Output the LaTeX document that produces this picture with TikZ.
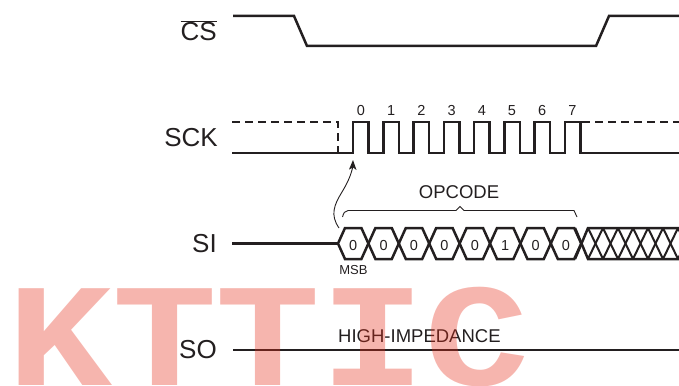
\documentclass[tikz,border=0pt]{standalone}
\usepackage{fontspec}
\setmainfont{Liberation Sans}
\newfontfamily\markfont{Liberation Mono}
\definecolor{inkdark}{HTML}{231F20}
\definecolor{markred}{RGB}{229,44,24}
\tikzset{
	wave/.style={inkdark, line width=2.5pt, line join=miter},
	thinwave/.style={inkdark, line width=0.9pt},
	sigtext/.style={inkdark, font=\fontsize{26}{26}\selectfont, anchor=base east, inner sep=0pt},
	bittext/.style={inkdark, font=\fontsize{14.5}{14.5}\selectfont, anchor=base, inner sep=0pt},
	smalltext/.style={inkdark, font=\fontsize{18.5}{18.5}\selectfont, anchor=base, inner sep=0pt},
	marktext/.style={text=markred, text opacity=0.35, font=\fontsize{175}{175}\markfont\bfseries, anchor=base, inner sep=0pt, yscale=0.84},
}
\begin{document}
\begin{tikzpicture}[x=1pt, y=-1pt]
		\useasboundingbox (0,0) rectangle (679,385);
		
		% signal names
		\node[sigtext] (csname) at (217,41) {$\overline{\mbox{CS}}$};
		\node[sigtext] (sckname) at (218,146) {SCK};
		\node[sigtext] (siname) at (217,252) {SI};
		\node[sigtext] (soname) at (217,358) {SO};
		
		% chip select
		\draw[wave] (233,16) -- (294,16) -- (307,46) -- (596,46) -- (609,16) -- (679,16);
		
		% clock
		\draw[wave, dashed, dash pattern=on 8pt off 5pt] (232,122) -- (338,122) -- (338,153);
		\draw[wave, dashed, dash pattern=on 8pt off 5pt] (582,122) -- (679,122);
		\draw[wave] (232,153) -- (353,153)
			\foreach \k in {0,...,7} {
				-- ({353+30.25*\k},122) -- ({368.5+30.25*\k},122) -- ({368.5+30.25*\k},153) -- ({383.25+30.25*\k},153)
			};
		\draw[wave] (580,122) -- (580,153) -- (679,153);
		\foreach \k in {0,...,7} {
			\node[bittext] (clk\k) at ({361+30.2*\k},115) {\k};
		}
		
		% data in
		\draw[wave] (232,243.5) -- (338,243.5);
		\foreach \k/\bit in {0/0,1/0,2/0,3/0,4/0,5/1,6/0,7/0} {
			\draw[wave] ({338+30.4*\k},243.5) -- ({345+30.4*\k},228) -- ({361.4+30.4*\k},228) -- ({368.4+30.4*\k},243.5)
				-- ({361.4+30.4*\k},259) -- ({345+30.4*\k},259) -- cycle;
			\node[bittext] (bit\k) at ({353.2+30.4*\k},250) {\bit};
		}
		
		% don't care part
		\draw[wave] (575,228) -- (588,259) -- (679,259);
		\draw[wave] (575,259) -- (588,228) -- (679,228);
		\foreach \k in {0,...,6} {
			\draw[wave, line width=2pt] ({588+15*\k},228) -- ({603+15*\k},259);
			\draw[wave, line width=2pt] ({588+15*\k},259) -- ({603+15*\k},228);
		}
		
		\node[inkdark, font=\fontsize{13}{13}\selectfont, anchor=base, inner sep=0pt] (msb) at (353.5,274) {MSB};
		\node[smalltext] (opcode) at (459,198) {OPCODE};
		\draw[thinwave] (342.5,217) .. controls (343.5,213) and (345,210.5) .. (348,210.5) -- (456,210.5) -- (460,206.5) -- (464,210.5) -- (574,210.5) -- (577,217);
		
		% arrow up to first edge
		\draw[thinwave] (339,228) .. controls (330,215) and (334,205) .. (342,192) .. controls (348,182) and (351,175) .. (353,166);
		\fill[inkdark] (353,160) -- (356.5,170) -- (353,167.5) -- (349,169.5) -- cycle;
		
		% data out
		\draw[wave] (233,350) -- (679,350);
		\node[smalltext, anchor=base west] (hiz) at (338,342) {HIGH-IMPEDANCE};
		
		% overlaid mark
		\node[marktext] (markK) at (60,385) {K};
		\node[marktext] (markTa) at (165,385) {T};
		\node[marktext] (markTb) at (268.5,385) {T};
		\node[marktext] (markI) at (373,385) {I};
		\node[marktext] (markC) at (477,385) {C};
		
	\end{tikzpicture}
\end{document}
